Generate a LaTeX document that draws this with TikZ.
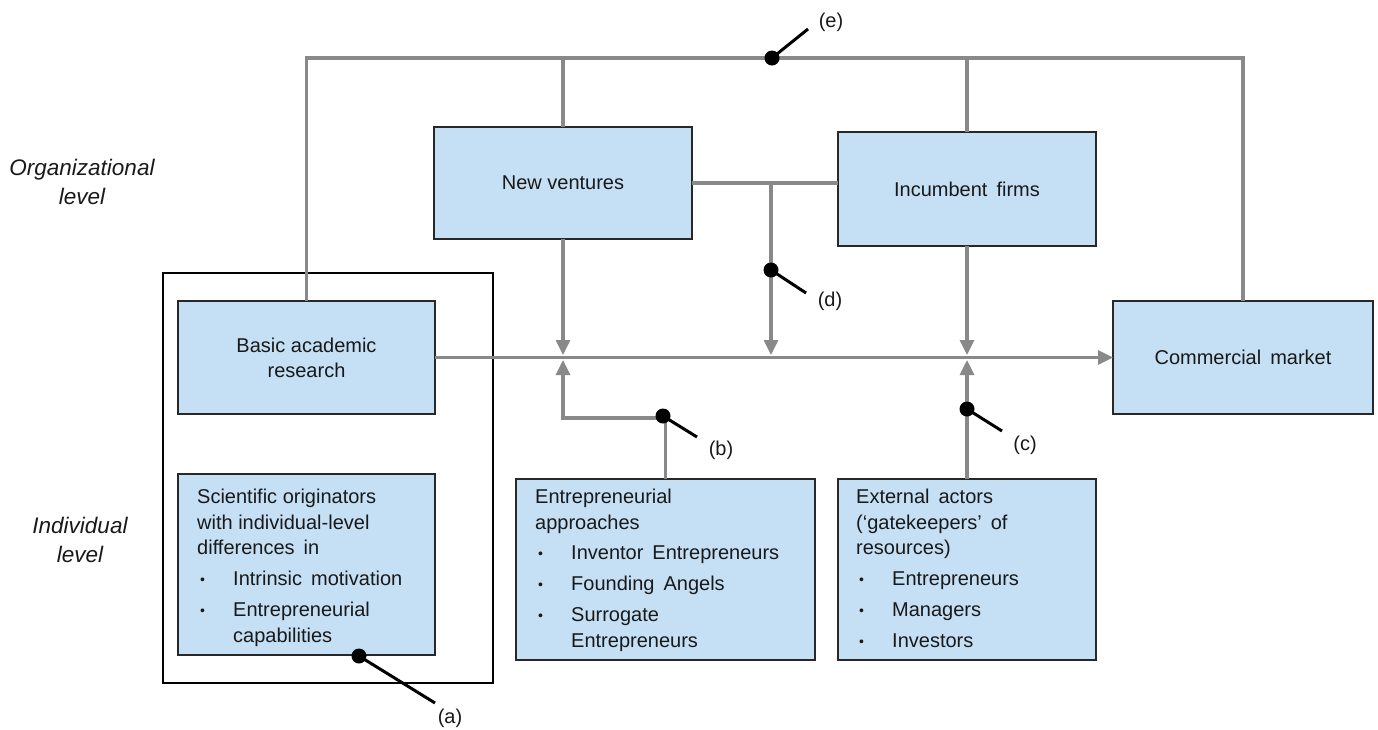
\documentclass[tikz,border=0pt]{standalone}
\usepackage{fontspec}
\setmainfont{Liberation Sans}
\usetikzlibrary{arrows.meta}
\definecolor{linegray}{RGB}{137,137,137}
\definecolor{boxblue}{RGB}{197,224,245}
\definecolor{boxedge}{RGB}{40,40,40}
\definecolor{inktext}{RGB}{25,25,25}
% wide word gap and bullet column used in the box texts
\newcommand{\wsp}{\hspace{9pt}}
\newcommand{\bul}{\makebox[36pt][l]{\hspace{3pt}\raisebox{1pt}{\fontsize{14}{14}\selectfont\textbullet}}}
\begin{document}
\begin{tikzpicture}[x=1pt,y=-1pt,
  box/.style={draw=boxedge,line width=1.8pt,fill=boxblue,inner sep=0pt,outer sep=0pt},
  frame/.style={draw=black,line width=1.5pt,inner sep=0pt,outer sep=0pt},
  conn/.style={draw=linegray,line width=3.2pt},
  arr/.style={conn,-{Triangle[length=15pt,width=14pt]}},
  dot/.style={circle,fill=black,inner sep=0pt,minimum size=15pt},
  pin/.style={draw=black,line width=3pt},
  txt/.style={font=\fontsize{20}{25.5}\selectfont,text=inktext,inner sep=0pt,align=left},
  ctxt/.style={font=\fontsize{20}{25}\selectfont,text=inktext,inner sep=0pt,align=center},
  lbl/.style={font=\fontsize{20}{24}\selectfont,text=inktext,inner sep=0pt},
  side/.style={font=\fontsize{22.5}{29}\selectfont\itshape,text=inktext,inner sep=0pt,align=center}]
\useasboundingbox (0,0) rectangle (1378,729);

% level labels
\node[side] (org) at (82,182) {Organizational\\level};
\node[side] (ind) at (80,540) {Individual\\level};

% individual-level frame
\node[frame,minimum width=330pt,minimum height=410pt] (outer) at (328,478) {};

% boxes
\node[box,minimum width=257pt,minimum height=113pt] (basic) at (306.5,357.5) {};
\node[box,minimum width=257pt,minimum height=181pt] (sci) at (306.5,564.5) {};
\node[box,minimum width=258pt,minimum height=112pt] (nv) at (563,183) {};
\node[box,minimum width=258pt,minimum height=114pt] (inc) at (967,189) {};
\node[box,minimum width=260pt,minimum height=113pt] (market) at (1243,357.5) {};
\node[box,minimum width=299pt,minimum height=181pt] (ent) at (665.5,569.5) {};
\node[box,minimum width=258pt,minimum height=181pt] (ext) at (967,569.5) {};

% box texts
\node[ctxt] (basicT) at (basic.center) {Basic academic\\research};
\node[ctxt] (nvT) at (nv.center) {New ventures};
\node[ctxt] (incT) at (inc.center) {Incumbent\wsp firms};
\node[ctxt] (marketT) at (market.center) {Commercial\wsp market};
\node[txt,anchor=north west] (sciT) at (197,489) {Scientific originators\\with individual-level\\differences\wsp in\\[5.5pt]\bul Intrinsic\wsp motivation\\[5.5pt]\bul Entrepreneurial\\\hspace*{36pt}capabilities};
\node[txt,anchor=north west] (entT) at (535,489) {Entrepreneurial\\approaches\\[5pt]\bul Inventor\wsp Entrepreneurs\\[5.5pt]\bul Founding\wsp Angels\\[5.5pt]\bul Surrogate\\\hspace*{36pt}Entrepreneurs};
\node[txt,anchor=north west] (extT) at (856,489) {External\wsp actors\\(‘gatekeepers’\wsp of\\resources)\\[5pt]\bul Entrepreneurs\\[5.5pt]\bul Managers\\[5.5pt]\bul Investors};

% connector levels
\coordinate (tl) at (306.5,58);
\coordinate (tr) at (1243,58);
\coordinate (mainA) at (0,355);
\coordinate (mainB) at (0,360);
\coordinate (dj) at (771,183);
\coordinate (bk) at (0,418);

% connectors
\draw[conn] (basic.north) -- (tl) -- (tr) -- (market.north);
\draw[conn] (nv.north) -- (nv.north |- tl);
\draw[conn] (inc.north) -- (inc.north |- tl);
\draw[conn] (nv.east) -- (nv.east -| inc.west);
\draw[arr] (basic.east) -- (market.west);
\draw[arr] (nv.south) -- (nv.south |- mainA);
\draw[arr] (dj) -- (dj |- mainA);
\draw[arr] (inc.south) -- (inc.south |- mainA);
\draw[arr] (ent.north) |- (nv.south |- bk) -- (nv.south |- mainB);
\draw[arr] (ext.north) -- (ext.north |- mainB);

% labelled markers
\node[dot] (me) at (772,58) {};
\coordinate (meEnd) at (808,29);
\draw[pin] (me.center) -- (meEnd);
\node[lbl] (le) at (831,22) {(e)};

\node[dot] (md) at (771,270) {};
\coordinate (mdEnd) at (806,293);
\draw[pin] (md.center) -- (mdEnd);
\node[lbl] (ld) at (830,301) {(d)};

\node[dot] (mb) at (663,416) {};
\coordinate (mbEnd) at (697,437);
\draw[pin] (mb.center) -- (mbEnd);
\node[lbl] (lb) at (721,450) {(b)};

\node[dot] (mc) at (967,409) {};
\coordinate (mcEnd) at (1002,431);
\draw[pin] (mc.center) -- (mcEnd);
\node[lbl] (lc) at (1025,445) {(c)};

\node[dot] (ma) at (359,656) {};
\coordinate (maEnd) at (435,703);
\draw[pin] (ma.center) -- (maEnd);
\node[lbl] (la) at (450,718) {(a)};
\end{tikzpicture}
\end{document}
